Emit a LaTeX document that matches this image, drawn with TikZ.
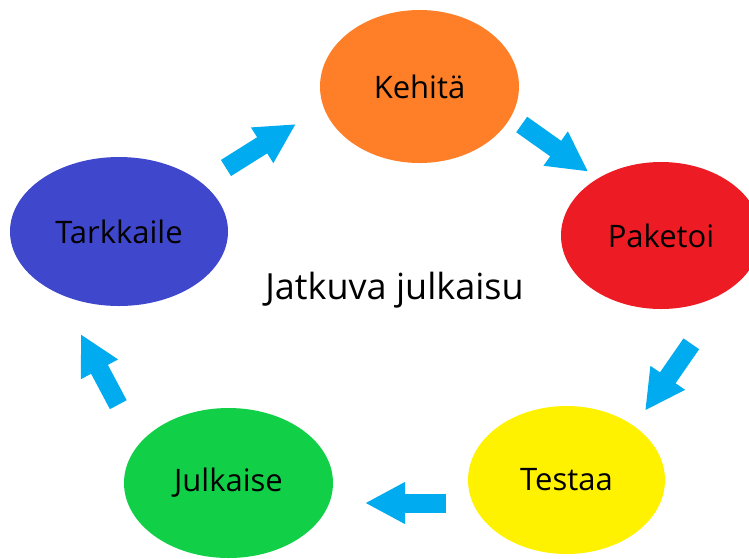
\documentclass[tikz,border=0pt]{standalone}
\usepackage{fontspec}
\setmainfont{Open Sans}
\usetikzlibrary{shapes.geometric,arrows.meta}
\definecolor{nuoli}{RGB}{0,172,239}
\definecolor{oranssi}{RGB}{254,127,39}
\definecolor{punainen}{RGB}{237,28,36}
\definecolor{sininen}{RGB}{63,72,204}
\definecolor{vihrea}{RGB}{18,207,72}
\definecolor{keltainen}{RGB}{255,242,0}
\tikzset{
  vaihe/.style={ellipse,inner sep=0pt,font=\fontsize{31}{36}\selectfont},
  kierto/.style={draw=nuoli,line width=19pt,-{Triangle[width=39pt,length=40pt]}}
}
\begin{document}
\begin{tikzpicture}[x=1pt,y=-1pt]
        \clip (0,0) rectangle (749,558);
        \node[vaihe,fill=oranssi,minimum width=199pt,minimum height=153pt] (kehita) at (419.5,86.5) {Kehitä};
        \node[vaihe,fill=punainen,minimum width=200pt,minimum height=147pt] (paketoi) at (661,235.5) {Paketoi};
        \node[vaihe,fill=keltainen,minimum width=197pt,minimum height=148pt] (testaa) at (566.5,480) {Testaa};
        \node[vaihe,fill=vihrea,minimum width=209pt,minimum height=150pt] (julkaise) at (228.5,483) {Julkaise};
        \node[vaihe,fill=sininen,minimum width=218pt,minimum height=149pt] (tarkkaile) at (119,231.5) {Tarkkaile};
        \node[anchor=base,font=\fontsize{36}{42}\selectfont] (otsikko) at (394.5,299) {Jatkuva julkaisu};
        \coordinate (a0) at (226,168);   \coordinate (a1) at (296,124);
        \coordinate (b0) at (521.7,124.5); \coordinate (b1) at (588.3,171.7);
        \coordinate (c0) at (691.3,343.8); \coordinate (c1) at (645,410.7);
        \coordinate (d0) at (445.7,503); \coordinate (d1) at (365,503);
        \coordinate (e0) at (118.3,404.7); \coordinate (e1) at (80.7,334);
        \draw[kierto] (a0) -- (a1);
        \draw[kierto] (b0) -- (b1);
        \draw[kierto] (c0) -- (c1);
        \draw[kierto] (d0) -- (d1);
        \draw[kierto] (e0) -- (e1);
    \end{tikzpicture}
\end{document}
